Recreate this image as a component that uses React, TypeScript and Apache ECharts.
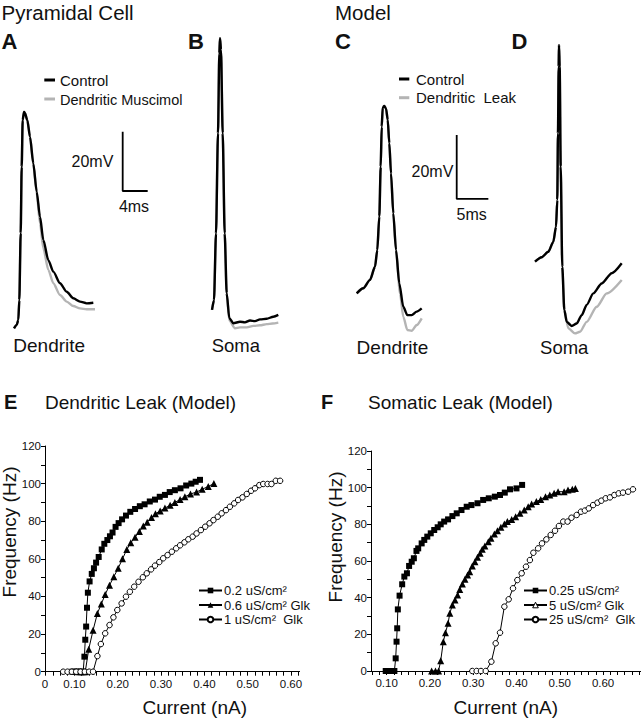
import React, { useEffect, useRef } from 'react';
import * as echarts from 'echarts';

const FONT = '"Liberation Sans", Arial, Helvetica, sans-serif';
const INK = '#111';
const GRAY = '#b4b4b4';

// ---------- Top traces: [time (ms), membrane potential (mV)] ----------
const aControl: [number, number][] = [[0.64,-70.6],[1.07,-69.5],[1.33,-67.8],[1.49,-61.1],[1.71,-38.5],[1.87,-16.1],[2.03,-0.4],[2.24,2.4],[2.40,1.9],[2.77,-0.4],[3.20,-6.0],[3.73,-15.0],[4.27,-24.5],[4.80,-33.0],[5.33,-40.8],[6.13,-47.6],[6.93,-51.5],[8.00,-55.4],[9.07,-58.3],[10.13,-60.5],[11.20,-61.6],[12.27,-62.2],[13.33,-62.0]];
const aMuscimol: [number, number][] = [[0.64,-70.6],[1.07,-69.5],[1.33,-67.8],[1.49,-61.1],[1.71,-38.5],[1.87,-16.1],[2.03,-0.4],[2.24,2.4],[2.40,1.9],[2.77,-0.4],[3.20,-6.0],[3.73,-15.2],[4.27,-25.0],[4.80,-35.2],[5.33,-43.6],[6.13,-50.9],[6.93,-55.4],[8.00,-59.4],[9.07,-61.6],[10.13,-63.1],[11.20,-63.9],[12.27,-64.2],[13.60,-64.2]];
const bControl: [number, number][] = [[1.92,-64.4],[2.24,-61.1],[2.56,-38.6],[2.88,-4.8],[3.09,22.1],[3.20,27.2],[3.36,23.3],[3.63,-4.8],[3.95,-38.6],[4.27,-58.8],[4.69,-67.2],[5.33,-68.9],[6.40,-68.4],[7.20,-68.6],[8.00,-68.0],[8.80,-68.2],[9.60,-67.6],[10.67,-67.4],[11.73,-66.7],[12.53,-66.1]];
const bMuscimol: [number, number][] = [[1.92,-64.4],[2.24,-61.1],[2.56,-38.6],[2.88,-4.8],[3.09,22.1],[3.20,27.2],[3.36,23.3],[3.63,-4.8],[3.95,-38.6],[4.27,-58.8],[4.69,-68.0],[5.60,-70.6],[6.40,-70.3],[7.50,-70.3],[8.53,-69.8],[9.60,-69.6],[10.67,-69.2],[11.60,-69.0],[12.53,-68.7]];
const cControl: [number, number][] = [[2.64,-52.3],[3.68,-50.7],[4.74,-48.1],[5.53,-44.0],[5.89,-38.8],[6.21,-28.3],[6.43,-12.7],[6.59,-0.2],[6.75,5.8],[7.00,6.25],[7.27,5.5],[7.54,1.9],[7.79,-5.4],[8.06,-14.8],[8.42,-27.3],[8.85,-38.8],[9.37,-49.2],[10.00,-56.5],[10.63,-59.1],[11.33,-59.1],[12.12,-58.0],[12.91,-57.0]];
const cLeak: [number, number][] = [[2.64,-52.3],[3.68,-50.7],[4.74,-48.1],[5.53,-44.0],[5.89,-38.8],[6.21,-28.3],[6.43,-12.7],[6.59,-0.2],[6.75,5.8],[7.00,6.25],[7.27,5.5],[7.54,1.9],[7.79,-5.4],[8.06,-14.8],[8.42,-27.3],[8.85,-38.8],[9.48,-52.3],[10.00,-59.6],[10.63,-63.75],[11.33,-64.0],[12.12,-62.2],[12.91,-60.1]];
const dControl: [number, number][] = [[0.79,-42.4],[1.85,-41.0],[2.89,-39.3],[3.68,-36.2],[4.11,-31.5],[4.31,-23.1],[4.42,-2.3],[4.53,18.5],[4.58,25.3],[4.69,18.5],[4.85,-12.7],[5.10,-44.0],[5.42,-57.5],[5.80,-61.2],[6.59,-62.5],[7.38,-61.7],[8.17,-59.1],[8.96,-55.9],[10.00,-52.3],[11.33,-49.2],[12.91,-46.0],[14.49,-42.9]];
const dLeak: [number, number][] = [[0.79,-42.4],[1.85,-41.0],[2.89,-39.3],[3.68,-36.2],[4.11,-31.5],[4.31,-23.1],[4.42,-2.3],[4.53,18.5],[4.58,25.3],[4.69,18.5],[4.85,-12.7],[5.10,-44.0],[5.42,-57.5],[6.05,-63.2],[7.11,-64.8],[7.90,-64.3],[8.96,-61.2],[10.54,-56.5],[12.12,-52.3],[14.49,-48.1]];

// scale bars: [t0 (ms), v0 (mV), dt (ms), dv (mV)]
const scaleBarAB = [18.03, -24.3, 4, 20];
const scaleBarCD = [18.44, -22.8, 5, 20];

// ---------- E: Dendritic leak (model) [current nA, frequency Hz] ----------
const eLeak02: [number, number][] = [[0.095,0],[0.100,0],[0.105,0],[0.110,0],[0.115,0],[0.120,0],[0.123,8],[0.125,17],[0.127,24],[0.129,34],[0.131,42],[0.135,48],[0.140,52],[0.145,55],[0.150,58],[0.156,61],[0.163,65],[0.169,68],[0.176,70],[0.182,72],[0.188,74],[0.195,77],[0.202,79],[0.210,81],[0.219,83],[0.229,85],[0.240,86.5],[0.251,88],[0.262,89],[0.274,90.5],[0.286,91.5],[0.297,93],[0.309,94],[0.320,95.5],[0.332,96.5],[0.345,97.5],[0.358,99],[0.370,100],[0.380,101],[0.390,102]];
const eLeak06: [number, number][] = [[0.110,0],[0.115,0],[0.120,0],[0.125,0],[0.133,12],[0.143,22],[0.153,31],[0.162,36],[0.171,41],[0.181,46],[0.191,50.5],[0.201,55],[0.211,60],[0.221,65],[0.230,68.5],[0.240,71.5],[0.250,74.5],[0.259,77.5],[0.268,79.5],[0.278,82],[0.287,84],[0.298,85.5],[0.309,87],[0.321,88.5],[0.332,90],[0.344,91.5],[0.355,93],[0.368,94.5],[0.382,95.5],[0.395,97],[0.409,98.5],[0.422,100]];
const eLeak1: [number, number][] = [[0.074,0],[0.084,0],[0.094,0],[0.104,0],[0.114,0],[0.124,0],[0.134,0],[0.143,0],[0.153,8.3],[0.161,14.7],[0.171,20.4],[0.181,24.8],[0.190,28.9],[0.199,32.8],[0.209,36.3],[0.219,39.9],[0.228,42.5],[0.238,45.2],[0.248,47.8],[0.258,50.2],[0.267,52.3],[0.277,54.4],[0.286,56.4],[0.296,58.3],[0.305,60.3],[0.315,62],[0.325,63.8],[0.335,65.6],[0.344,67.2],[0.354,68.8],[0.363,70.4],[0.373,71.8],[0.382,73.5],[0.392,75.3],[0.402,77.1],[0.412,78.9],[0.421,80.6],[0.431,82.4],[0.440,84.2],[0.450,85.9],[0.459,87.7],[0.469,89.5],[0.478,91.3],[0.488,92.7],[0.498,94.5],[0.508,96.2],[0.517,97.5],[0.527,99.2],[0.536,99.8],[0.546,99.8],[0.555,99.8],[0.565,101.5],[0.575,101.5]];

// ---------- F: Somatic leak (model) ----------
const fLeak025: [number, number][] = [[0.098,0],[0.108,0],[0.118,0],[0.121,6.9],[0.123,16],[0.1245,23.3],[0.126,33.6],[0.130,41.1],[0.136,47.3],[0.141,51.5],[0.147,53.3],[0.152,57.3],[0.158,59.6],[0.163,61.5],[0.169,65.5],[0.173,66.9],[0.181,69.6],[0.187,71.5],[0.194,73.3],[0.202,75.1],[0.210,76.9],[0.218,78.4],[0.225,80],[0.233,81.5],[0.242,82.7],[0.252,84.5],[0.262,86],[0.273,87.8],[0.285,89.6],[0.296,90.5],[0.310,91.5],[0.323,93.3],[0.336,94.2],[0.350,95.1],[0.362,96],[0.373,97.3],[0.385,99.1],[0.400,99.6],[0.413,101.5]];
const fLeak5: [number, number][] = [[0.204,0],[0.213,0],[0.220,0],[0.225,5.6],[0.231,16],[0.236,20.9],[0.242,26],[0.246,31.5],[0.252,36],[0.258,38.7],[0.264,41.5],[0.269,44.5],[0.275,47.5],[0.281,50],[0.287,52.4],[0.292,54.2],[0.298,57.3],[0.304,59.6],[0.310,62],[0.316,64.2],[0.321,66.4],[0.327,68.2],[0.335,70.5],[0.341,72.4],[0.349,74.7],[0.356,76.5],[0.364,78.4],[0.372,80.2],[0.379,81.5],[0.389,82.7],[0.398,84.2],[0.408,86],[0.418,87.8],[0.427,89.6],[0.435,91.1],[0.446,92.4],[0.456,93.6],[0.467,95.1],[0.477,96],[0.487,96.9],[0.496,97.8],[0.510,97.8],[0.519,98.7],[0.529,99.1],[0.536,99.5]];
const fLeak25: [number, number][] = [[0.298,0],[0.308,0],[0.318,0],[0.329,0],[0.342,5.1],[0.352,15.1],[0.362,20.9],[0.372,35.1],[0.382,39.1],[0.392,45.1],[0.402,49.6],[0.412,53.3],[0.422,56.9],[0.431,60.5],[0.439,64.5],[0.450,66.9],[0.459,69.6],[0.469,71.8],[0.479,74.2],[0.489,76.5],[0.498,79.1],[0.508,81.5],[0.518,81.5],[0.527,83.6],[0.539,85.1],[0.549,86.9],[0.558,87.5],[0.567,88.7],[0.577,90.5],[0.587,91.8],[0.596,92.9],[0.606,94.2],[0.616,94.7],[0.626,96],[0.636,96.9],[0.646,97.3],[0.658,97.8],[0.669,99.1]];

const eNames = ['0.2 uS/cm²', '0.6 uS/cm² Glk', '1 uS/cm²  Glk'];
const fNames = ['0.25 uS/cm²', '5 uS/cm² Glk', '25 uS/cm²  Glk'];
const xLabelValues = [0.1, 0.2, 0.3, 0.4, 0.5, 0.6];
const E_XMIN = 0.032, E_XMAX = 0.62;
const F_XMIN = 0.064, F_XMAX = 0.6876;

function ticksBetween(lo: number, hi: number) {
  const out: number[] = [];
  for (let k = Math.ceil(lo * 60 - 1e-6); k / 60 <= hi + 1e-9; k++) out.push(+(k / 60).toFixed(5));
  return out;
}

function bar(b: number[]): [number, number][] {
  const [t0, v0, dt, dv] = b;
  return [[t0, v0 + dv], [t0, v0], [t0 + dt, v0]];
}

function txt(text: string, x: number, y: number, size: number, o: any = {}) {
  return {
    type: 'text', x, y, rotation: o.rot || 0, silent: true,
    style: {
      text, x: 0, y: 0, fill: INK, fontSize: size, fontFamily: FONT,
      fontWeight: o.bold ? 'bold' : 'normal',
      textAlign: o.align || 'left', align: o.align || 'left',
      textVerticalAlign: 'middle', verticalAlign: 'middle',
    },
  };
}
function seg(x1: number, y1: number, x2: number, y2: number, color: string, w: number) {
  return { type: 'line', silent: true, shape: { x1, y1, x2, y2 }, style: { stroke: color, lineWidth: w } };
}

function trace(data: [number, number][], idx: number, color: string, w = 2.4) {
  return {
    type: 'line', data, xAxisIndex: idx, yAxisIndex: idx, symbol: 'none', clip: false,
    smooth: 0.25, smoothMonotone: 'x', lineStyle: { color, width: w }, silent: true, z: color === GRAY ? 2 : 3,
  };
}
function scale(data: [number, number][], idx: number) {
  return { type: 'line', data, xAxisIndex: idx, yAxisIndex: idx, symbol: 'none', clip: false, lineStyle: { color: '#000', width: 1.8 }, silent: true };
}
function fi(name: string, data: [number, number][], idx: number, kind: 'sq' | 'tri' | 'circ') {
  const filled = kind !== 'circ';
  return {
    name, type: 'line', data, xAxisIndex: idx, yAxisIndex: idx,
    symbol: kind === 'sq' ? 'rect' : kind === 'tri' ? 'triangle' : 'circle',
    symbolSize: kind === 'sq' ? 6 : kind === 'tri' ? 7 : 5.5,
    showAllSymbol: true, clip: false,
    lineStyle: { color: '#000', width: 1 },
    itemStyle: filled ? { color: '#000' } : { color: '#fff', borderColor: '#000', borderWidth: 1 },
    emphasis: { disabled: true },
  };
}

const hiddenAxis = (gridIndex: number, min: number, max: number) => ({ gridIndex, type: 'value', min, max, show: false });

const plotX = (gridIndex: number, min: number, max: number, labelVals: number[], zeroAtMin: boolean) => ({
  gridIndex, type: 'value', min, max,
  axisLine: { show: true, onZero: false, lineStyle: { color: '#000', width: 1 } },
  axisTick: { show: true, customValues: ticksBetween(min, max), length: 4, lineStyle: { color: '#000' } },
  axisLabel: {
    customValues: zeroAtMin ? [min, ...labelVals] : labelVals,
    formatter: (v: number) => (v < 0.08 ? '0' : v.toFixed(2)),
    fontSize: 11.5, color: INK, fontFamily: FONT, margin: 6,
  },
  splitLine: { show: false },
});
const plotY = (gridIndex: number) => ({
  gridIndex, type: 'value', min: 0, max: 120, interval: 20,
  axisLine: { show: true, onZero: false, lineStyle: { color: '#000', width: 1 } },
  axisTick: { show: true, length: 4, lineStyle: { color: '#000' } },
  minorTick: { show: true, splitNumber: 2, length: 4, lineStyle: { color: '#000' } },
  axisLabel: { fontSize: 11.5, color: INK, fontFamily: FONT, margin: 4 },
  splitLine: { show: false }, minorSplitLine: { show: false },
});

const legendCfg = (names: string[], left: number, openTriangle: boolean) => ({
  data: names.map((n, i) =>
    openTriangle && i === 1 ? { name: n, itemStyle: { color: '#fff', borderColor: '#000', borderWidth: 1 } } : { name: n }),
  orient: 'vertical', left, top: 584, itemWidth: 23, itemHeight: 7, itemGap: 1.5,
  padding: 0, selectedMode: false,
  textStyle: { fontSize: 13, lineHeight: 12, fontFamily: FONT, color: INK, padding: [0, 0, 0, -3] },
});

const option: any = {
  animation: false,
  backgroundColor: '#fff',
  grid: [
    { left: 10, top: 30, width: 140, height: 320, outerBoundsMode: 'none' },
    { left: 200, top: 30, width: 100, height: 320, outerBoundsMode: 'none' },
    { left: 340, top: 30, width: 170, height: 320, outerBoundsMode: 'none' },
    { left: 530, top: 30, width: 100, height: 320, outerBoundsMode: 'none' },
    { left: 45, top: 446, width: 254.6, height: 225.7, outerBoundsMode: 'none' },
    { left: 371, top: 451, width: 270, height: 220, outerBoundsMode: 'none' },
  ],
  xAxis: [
    hiddenAxis(0, 0, 22.4), hiddenAxis(1, 0, 16), hiddenAxis(2, 0, 26.86), hiddenAxis(3, 0, 15.8),
    plotX(4, E_XMIN, E_XMAX, xLabelValues, true),
    plotX(5, F_XMIN, F_XMAX, xLabelValues, false),
  ],
  yAxis: [
    hiddenAxis(0, -77.93, 30), hiddenAxis(1, -77.93, 30), hiddenAxis(2, -70, 30), hiddenAxis(3, -70, 30),
    plotY(4), plotY(5),
  ],
  legend: [legendCfg(eNames, 198, false), legendCfg(fNames, 523, true)],
  series: [
    trace(aMuscimol, 0, GRAY), trace(aControl, 0, '#000'), scale(bar(scaleBarAB), 0),
    trace(bMuscimol, 1, GRAY), trace(bControl, 1, '#000'),
    trace(cLeak, 2, GRAY), trace(cControl, 2, '#000'), scale(bar(scaleBarCD), 2),
    trace(dLeak, 3, GRAY), trace(dControl, 3, '#000'),
    fi(eNames[0], eLeak02, 4, 'sq'), fi(eNames[1], eLeak06, 4, 'tri'), fi(eNames[2], eLeak1, 4, 'circ'),
    fi(fNames[0], fLeak025, 5, 'sq'), fi(fNames[1], fLeak5, 5, 'tri'), fi(fNames[2], fLeak25, 5, 'circ'),
  ],
  graphic: [
    txt('Pyramidal Cell', 1.5, 12, 20.5),
    txt('Model', 335, 12, 20.5),
    txt('A', 1.5, 41, 22, { bold: true }),
    txt('B', 188, 41, 22, { bold: true }),
    txt('C', 335, 41, 22, { bold: true }),
    txt('D', 511.5, 41, 22, { bold: true }),
    seg(44.3, 80, 55, 80, '#000', 3), txt('Control', 60, 80.2, 15),
    seg(44.3, 99, 55, 99, GRAY, 3), txt('Dendritic Muscimol', 60, 100.2, 14.5),
    seg(399, 79, 409.3, 79, '#000', 3), txt('Control', 416, 79.2, 15),
    seg(399, 97.7, 409.3, 97.7, GRAY, 3), txt('Dendritic  Leak', 416, 97, 15),
    txt('20mV', 113.3, 161.6, 16, { align: 'right' }), txt('4ms', 134, 206.6, 16, { align: 'center' }),
    txt('20mV', 453.3, 171.6, 16, { align: 'right' }), txt('5ms', 471.7, 214.9, 16, { align: 'center' }),
    txt('Dendrite', 49.2, 345.6, 19, { align: 'center' }),
    txt('Soma', 235.8, 345.6, 18.5, { align: 'center' }),
    txt('Dendrite', 392.5, 347.2, 19, { align: 'center' }),
    txt('Soma', 564.2, 347, 18.5, { align: 'center' }),
    txt('E', 4, 401.6, 20, { bold: true }),
    txt('Dendritic Leak (Model)', 45, 402, 19),
    txt('F', 321, 401.6, 20, { bold: true }),
    txt('Somatic Leak (Model)', 368, 402, 19),
    txt('Frequency (Hz)', 9.5, 532, 19, { align: 'center', rot: Math.PI / 2 }),
    txt('Frequency (Hz)', 335, 537, 19, { align: 'center', rot: Math.PI / 2 }),
    txt('Current (nA)', 194.7, 707.5, 19, { align: 'center' }),
    txt('Current (nA)', 505.8, 707.5, 19, { align: 'center' }),
  ],
};

export default function App() {
  const ref = useRef<HTMLDivElement>(null);
  useEffect(() => {
    const chart = echarts.init(ref.current!, null, { renderer: 'svg' });
    chart.setOption(option);
    return () => chart.dispose();
  }, []);
  return <div ref={ref} style={{ position: 'fixed', left: 0, top: 0, width: 641, height: 719, background: '#fff' }} />;
}
